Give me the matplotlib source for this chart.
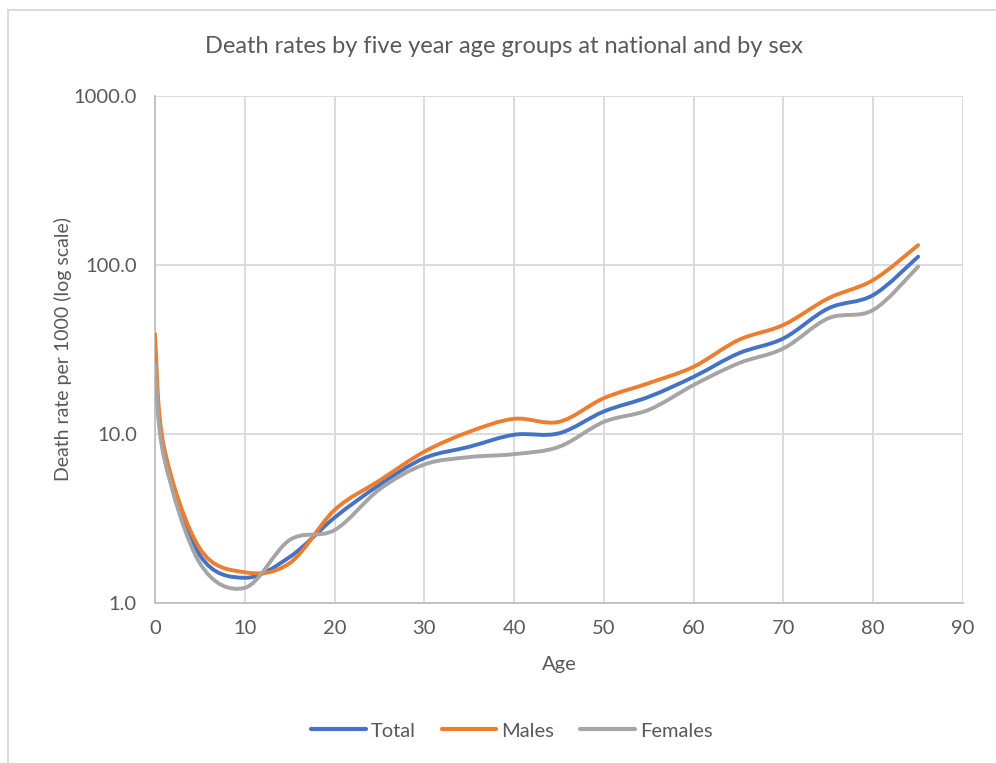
import numpy as np
import matplotlib
matplotlib.use("Agg")
import matplotlib.pyplot as plt
from matplotlib.path import Path
from matplotlib.patches import PathPatch
from matplotlib.lines import Line2D

# data (deaths per 1000)
ages = [0, 1, 5, 10, 15, 20, 25, 30, 35, 40, 45, 50, 55, 60, 65, 70, 75, 80, 85]
total = [32, 7.8, 1.92, 1.41, 1.87, 3.2, 5.0, 7.2, 8.4, 9.9, 10.1, 13.6, 16.6, 21.8, 30, 36.8, 55.4, 66.4, 112]
males = [39, 8.4, 2.1, 1.52, 1.72, 3.55, 5.3, 7.86, 10.3, 12.3, 11.8, 16.3, 20, 25, 36, 44.2, 63.5, 81.5, 131]
females = [26, 7.3, 1.72, 1.23, 2.36, 2.7, 4.7, 6.6, 7.3, 7.6, 8.4, 11.8, 13.9, 19.5, 26.2, 32.1, 48.4, 54.2, 97.8]

series_names = ["Total", "Males", "Females"]
series_colors = ["#4472c4", "#ed7d31", "#a5a5a5"]

txt = "#595959"
plt.rcParams["font.family"] = ["Lato", "DejaVu Sans"]


def smooth_path(xs, ys):
    # excel-like smoothed line: bezier control points worked out in (x, log y)
    # then handed back in data units so the log transform places them
    p = np.column_stack([np.asarray(xs, float), np.log10(ys)])
    n = len(p)
    verts = [p[0]]
    codes = [Path.MOVETO]
    for i in range(n - 1):
        p0 = p[max(i - 1, 0)]
        p1 = p[i]
        p2 = p[i + 1]
        p3 = p[min(i + 2, n - 1)]
        c1 = p1 + (p2 - p0) / 6
        c2 = p2 - (p3 - p1) / 6
        verts += [c1, c2, p2]
        codes += [Path.CURVE4] * 3
    verts = np.array(verts)
    verts[:, 1] = 10 ** verts[:, 1]
    return Path(verts, codes)


fig = plt.figure(figsize=(9.96, 7.63), dpi=100)
ax = fig.add_axes([0.1556, 0.2097, 0.8113, 0.6645])

for vals, name, col in zip([total, males, females], series_names, series_colors):
    patch = PathPatch(smooth_path(ages, vals), facecolor="none", edgecolor=col,
                      lw=2.8, capstyle="round", joinstyle="round", zorder=3)
    ax.add_patch(patch)

ax.set_yscale("log")
ax.set_xlim(0, 90)
ax.set_ylim(1, 1000)
ax.set_xticks(range(0, 91, 10))
ax.set_yticks([1, 10, 100, 1000])
ax.set_yticklabels(["1.0", "10.0", "100.0", "1000.0"])
ax.minorticks_off()
ax.grid(True, color="#d9d9d9", lw=1.3)
ax.set_axisbelow(True)
for s in ["top", "right"]:
    ax.spines[s].set_visible(False)
for s in ["left", "bottom"]:
    ax.spines[s].set_color("#bfbfbf")
    ax.spines[s].set_linewidth(1.3)
ax.tick_params(length=0, labelsize=14.5, colors=txt)
ax.tick_params(axis="x", pad=12)
ax.tick_params(axis="y", pad=13)

ax.set_xlabel("Age", fontsize=14.5, color=txt, labelpad=14)
ax.set_ylabel("Death rate per 1000 (log scale)", fontsize=14, color=txt, labelpad=1)
fig.text(0.5055, 0.939, "Death rates by five year age groups at national and by sex",
         ha="center", va="center", fontsize=17, color=txt)

handles = [Line2D([], [], color=c, lw=3, solid_capstyle="round") for c in series_colors]
fig.legend(handles, series_names, loc="center", bbox_to_anchor=(0.514, 0.042), ncol=3,
           frameon=False, fontsize=14.5, labelcolor=txt, handlelength=2.7,
           columnspacing=1.3, handletextpad=0.25)

# chart area border (top and left edges visible in the reference)
fig.add_artist(Line2D([8 / 996, 1], [1 - 10 / 763] * 2, transform=fig.transFigure,
                      color="#d9d9d9", lw=1.3))
fig.add_artist(Line2D([8 / 996] * 2, [0, 1 - 10 / 763], transform=fig.transFigure,
                      color="#d9d9d9", lw=1.3))

fig.savefig("out.png", dpi=100, facecolor="white")
